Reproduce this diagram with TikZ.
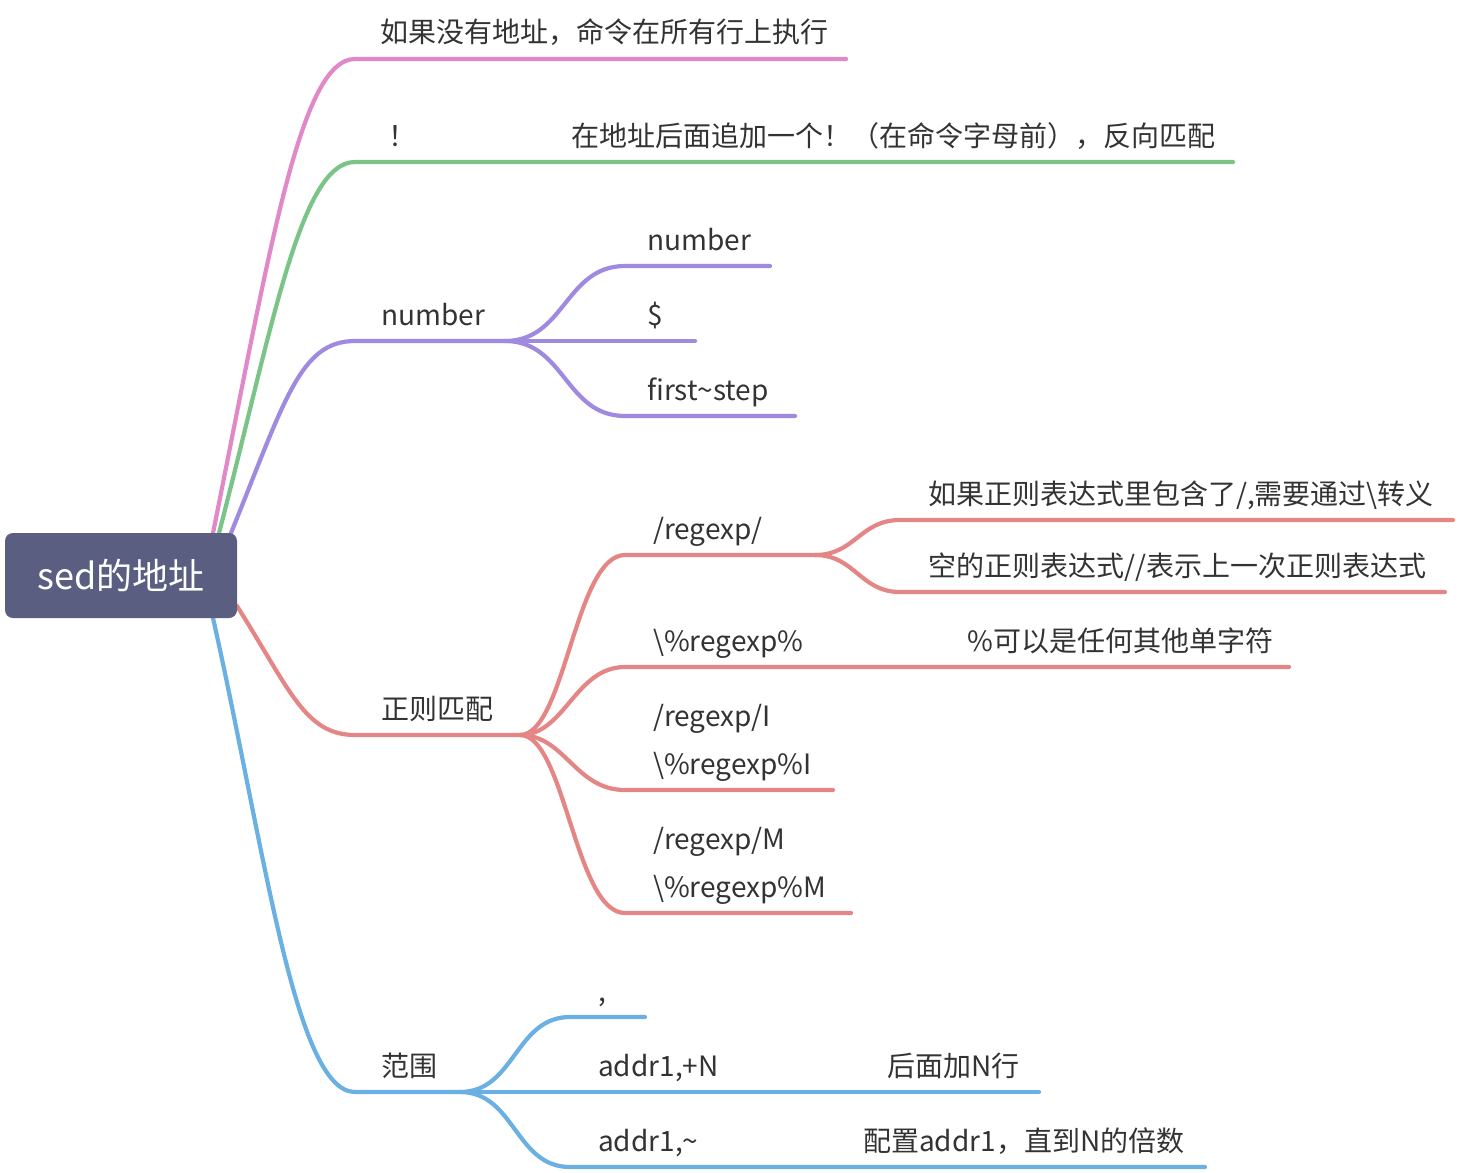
\documentclass[tikz,border=0pt]{standalone}
\usepackage{fontspec}
\setmainfont{Noto Sans CJK SC}
\definecolor{cpink}{HTML}{E088C8}
\definecolor{cgreen}{HTML}{7AC488}
\definecolor{cpurple}{HTML}{A08AE0}
\definecolor{cred}{HTML}{E58686}
\definecolor{cblue}{HTML}{6AB0E2}
\definecolor{croot}{HTML}{5A5F82}
\definecolor{ctxt}{HTML}{333333}
\begin{document}
\begin{tikzpicture}[x=1pt,y=-1pt,
  br/.style={line width=4.2pt, line cap=round},
  lbl/.style={anchor=base west, inner sep=0pt, text=ctxt, font=\fontsize{28}{32}\selectfont},
]
\useasboundingbox (0,0) rectangle (1458,1172);
% hinge coordinates
\coordinate (s1) at (213,533);
\coordinate (s2) at (219,533);
\coordinate (s3) at (231,533);
\coordinate (s4) at (237,606);
\coordinate (s5) at (213,618);
\coordinate (a0) at (355,59);   \coordinate (a1) at (846,59);
\coordinate (b0) at (355,162);  \coordinate (b1) at (1233,162);
\coordinate (c0) at (355,341);  \coordinate (c1) at (505,341);
\coordinate (d0) at (355,735);  \coordinate (d1) at (520,735);
\coordinate (e0) at (355,1092); \coordinate (e1) at (460,1092);
% number subs
\coordinate (c10) at (625,266); \coordinate (c11) at (770,266);
\coordinate (c21) at (695,341);
\coordinate (c30) at (625,416); \coordinate (c31) at (795,416);
% regex subs
\coordinate (d10) at (625,555); \coordinate (d11) at (815,555);
\coordinate (d20) at (625,667); \coordinate (d21) at (1289,667);
\coordinate (d30) at (625,790); \coordinate (d31) at (833,790);
\coordinate (d40) at (625,913); \coordinate (d41) at (851,913);
\coordinate (d110) at (900,520); \coordinate (d111) at (1453,520);
\coordinate (d120) at (900,592); \coordinate (d121) at (1445,592);
% range subs
\coordinate (e10) at (570,1017); \coordinate (e11) at (645,1017);
\coordinate (e20) at (570,1092); \coordinate (e21) at (1039,1092);
\coordinate (e30) at (570,1167); \coordinate (e31) at (1205,1167);

% main branches
\draw[br,cpink] (s1) .. controls (270,250) and (300,59) .. (a0) -- (a1);
\draw[br,cgreen] (s2) .. controls (272,330) and (300,162) .. (b0) -- (b1);
\draw[br,cpurple] (s3) .. controls (285,400) and (300,341) .. (c0) -- (c1);
\draw[br,cred] (s4) .. controls (290,690) and (305,735) .. (d0) -- (d1);
\draw[br,cblue] (s5) .. controls (265,850) and (295,1092) .. (e0) -- (e1);

% purple subs
\draw[br,cpurple] (c1) .. controls (565,341) and (565,266) .. (c10) -- (c11);
\draw[br,cpurple] (c1) -- (c21);
\draw[br,cpurple] (c1) .. controls (565,341) and (565,416) .. (c30) -- (c31);

% red subs
\draw[br,cred] (d1) .. controls (565,735) and (575,555) .. (d10) -- (d11);
\draw[br,cred] (d1) .. controls (565,735) and (575,667) .. (d20) -- (d21);
\draw[br,cred] (d1) .. controls (565,735) and (575,790) .. (d30) -- (d31);
\draw[br,cred] (d1) .. controls (565,735) and (575,913) .. (d40) -- (d41);
\draw[br,cred] (d11) .. controls (855,555) and (860,520) .. (d110) -- (d111);
\draw[br,cred] (d11) .. controls (855,555) and (860,592) .. (d120) -- (d121);

% blue subs
\draw[br,cblue] (e1) .. controls (515,1092) and (515,1017) .. (e10) -- (e11);
\draw[br,cblue] (e1) -- (e20) -- (e21);
\draw[br,cblue] (e1) .. controls (515,1092) and (515,1167) .. (e30) -- (e31);

% root
\node[fill=croot, rounded corners=8pt, minimum width=232pt, minimum height=85pt, inner sep=0pt,
      text=white, font=\fontsize{36}{40}\selectfont] (root) at (121,575.5) {sed的地址};

% labels
\node[lbl] (t1) at (380,43) {如果没有地址，命令在所有行上执行};
\node[lbl] (t2) at (388,146) {！};
\node[lbl] (t2b) at (571,146) {在地址后面追加一个！（在命令字母前），反向匹配};
\node[lbl] (t3) at (381,325) {number};
\node[lbl] (t31) at (647,250) {number};
\node[lbl] (t32) at (647,325) {\$};
\node[lbl] (t33) at (647,400) {first\textasciitilde step};
\node[lbl] (t4) at (381,719) {正则匹配};
\node[lbl] (t41) at (653,539) {/regexp/};
\node[lbl] (t411) at (928,504) {如果正则表达式里包含了/,需要通过\textbackslash 转义};
\node[lbl] (t412) at (928,576) {空的正则表达式//表示上一次正则表达式};
\node[lbl] (t42) at (653,651) {\textbackslash\%regexp\%};
\node[lbl] (t42b) at (967,651) {\%可以是任何其他单字符};
\node[lbl] (t43a) at (653,726) {/regexp/I};
\node[lbl] (t43b) at (653,774) {\textbackslash\%regexp\%I};
\node[lbl] (t44a) at (653,849) {/regexp/M};
\node[lbl] (t44b) at (653,897) {\textbackslash\%regexp\%M};
\node[lbl] (t5) at (381,1076) {范围};
\node[lbl] (t51) at (598,1001) {,};
\node[lbl] (t52) at (598,1076) {addr1,+N};
\node[lbl] (t52b) at (887,1076) {后面加N行};
\node[lbl] (t53) at (598,1151) {addr1,\textasciitilde};
\node[lbl] (t53b) at (863,1151) {配置addr1，直到N的倍数};
\end{tikzpicture}
\end{document}
